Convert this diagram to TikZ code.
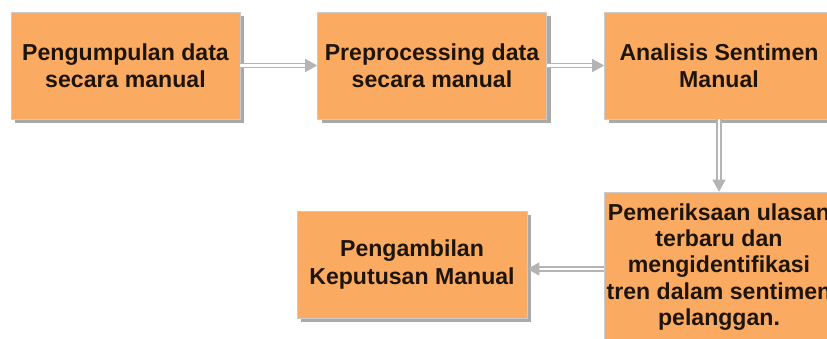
\documentclass[tikz,border=0pt]{standalone}
\usepackage{fontspec}
\setmainfont{Liberation Sans}
\usetikzlibrary{arrows.meta}
\definecolor{boxfill}{HTML}{FBAA62}
\definecolor{boxtext}{HTML}{1E150A}
\definecolor{shadowgrey}{HTML}{A9A9A9}
\definecolor{arrowgrey}{HTML}{B4B4B4}
\tikzset{
  stepbox/.style={rectangle, fill=boxfill, draw=shadowgrey!60, line width=0.6pt,
    minimum width=229pt, minimum height=107pt, inner sep=0pt,
    text=boxtext, align=center,
    font=\fontsize{23.1}{27.5}\selectfont\bfseries,
    preaction={fill=shadowgrey, transform canvas={xshift=4pt,yshift=-4pt}}},
  flow/.style={draw=arrowgrey, double=white, double distance=2.6pt, line width=1.3pt,
    -{Triangle[length=12pt,width=13pt]}}
}
\begin{document}
\begin{tikzpicture}[x=1pt,y=-1pt]
\clip (0,0) rectangle (827,338);
\fill[white] (0,0) rectangle (827,338);
\node[stepbox] (b1) at (125.5,65.5) {Pengumpulan data\\secara manual};
\node[stepbox] (b2) at (432,65.5) {Preprocessing data\\secara manual};
\node[stepbox] (b3) at (719,65.5) {Analisis Sentimen\\Manual};
\node[stepbox, minimum height=150pt, font=\fontsize{23.1}{26.2}\selectfont\bfseries] (b4) at (719,267)
  {Pemeriksaan ulasan\\terbaru dan\\mengidentifikasi\\tren dalam sentimen\\pelanggan.};
\node[stepbox, minimum width=230pt] (b5) at (412,264.5) {Pengambilan\\Keputusan Manual};
\draw[flow] (b1.east) -- (b2.west);
\draw[flow] (b2.east) -- (b3.west);
\draw[flow] (b3.south) -- (b4.north);
\draw[flow] ([yshift=-2pt]b4.west) -- ([yshift=-2pt]b4.west -| b5.east);
\end{tikzpicture}
\end{document}
